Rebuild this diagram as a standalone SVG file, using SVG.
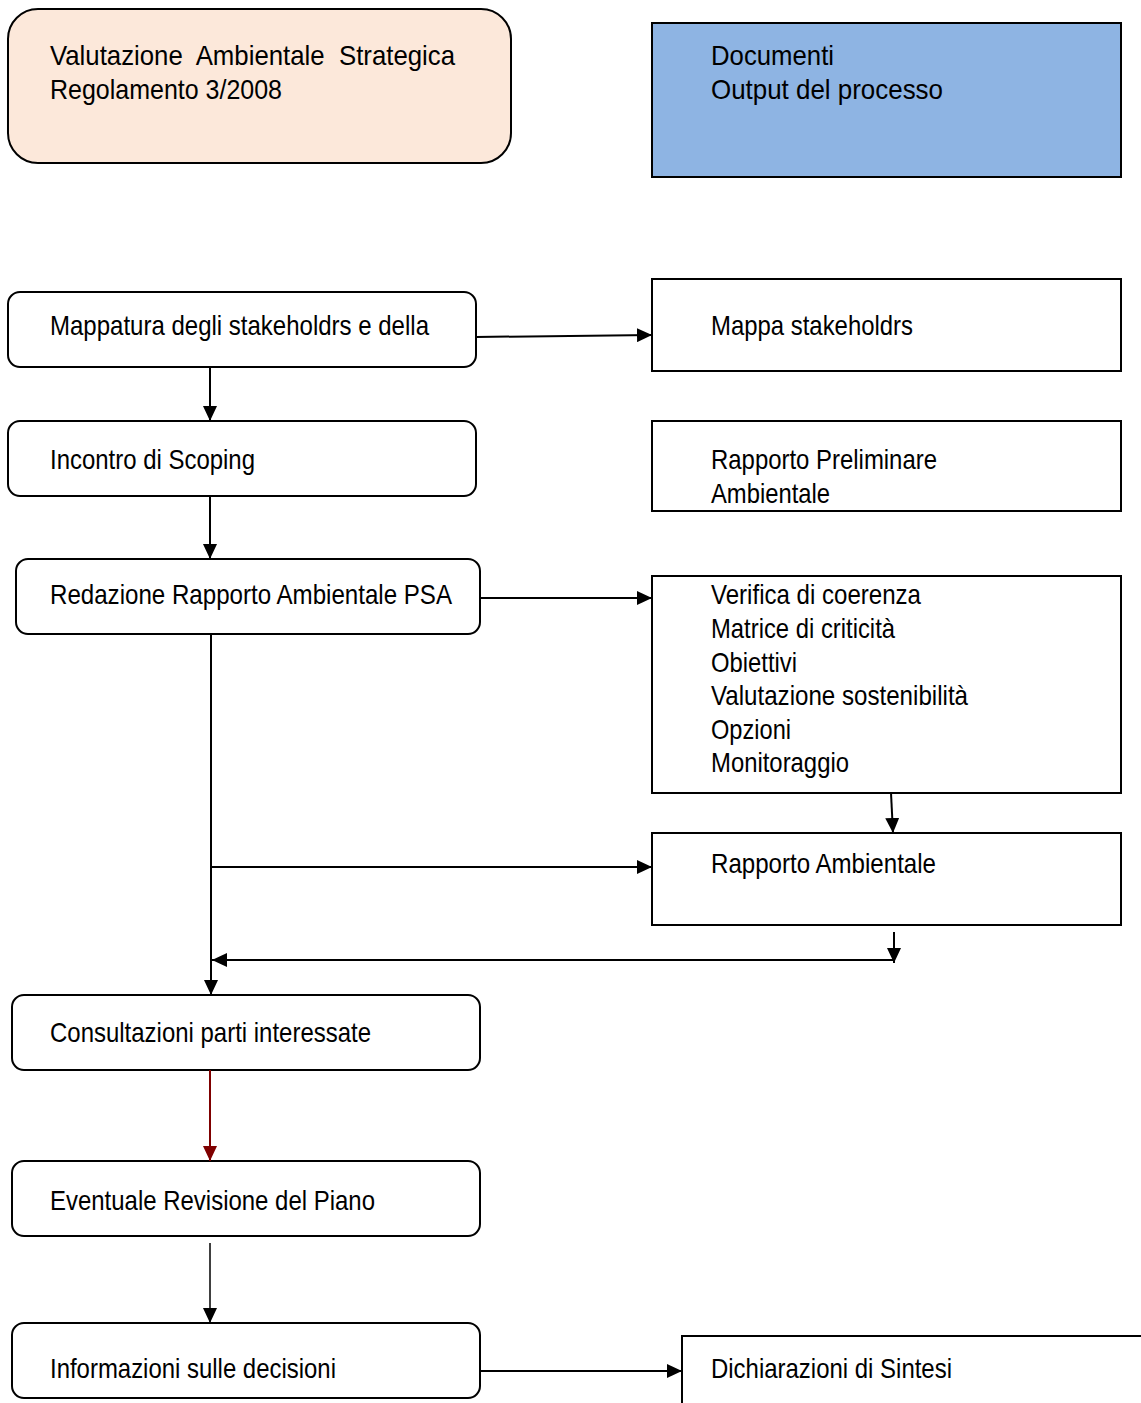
<svg xmlns="http://www.w3.org/2000/svg" width="1141" height="1403" viewBox="0 0 1141 1403">
  <style>
    .t { font-family: "Liberation Sans Narrow", "Liberation Sans", Arial, sans-serif; font-size: 28px; fill: #000; }
    .step { fill: #fff; stroke: #000; stroke-width: 2; }
    .doc { fill: #fff; stroke: #000; stroke-width: 2; }
    .ln { fill: none; stroke: #000; stroke-width: 2; }
  </style>
  <defs>
    <marker id="ah" markerUnits="userSpaceOnUse" markerWidth="16" markerHeight="14" refX="15" refY="7" orient="auto">
      <path d="M0,0 L15,7 L0,14 Z" fill="#000"/>
    </marker>
    <marker id="ahr" markerUnits="userSpaceOnUse" markerWidth="16" markerHeight="14" refX="15" refY="7" orient="auto">
      <path d="M0,0 L15,7 L0,14 Z" fill="#7f0000"/>
    </marker>
  </defs>
  <rect width="1141" height="1403" fill="#fff"/>

  <!-- header boxes -->
  <g id="vas-header">
    <rect x="8" y="9" width="503" height="154" rx="30" ry="30" fill="#fce8da" stroke="#000" stroke-width="2"/>
    <text class="t" x="50" y="65" textLength="405" lengthAdjust="spacingAndGlyphs" xml:space="preserve">Valutazione  Ambientale  Strategica</text>
    <text class="t" x="50" y="99" textLength="232" lengthAdjust="spacingAndGlyphs">Regolamento 3/2008</text>
  </g>
  <g id="docs-header">
    <rect x="652" y="23" width="469" height="154" fill="#8eb4e3" stroke="#000" stroke-width="2"/>
    <text class="t" x="711" y="65" textLength="123" lengthAdjust="spacingAndGlyphs">Documenti</text>
    <text class="t" x="711" y="99" textLength="232" lengthAdjust="spacingAndGlyphs">Output del processo</text>
  </g>

  <!-- process steps -->
  <g id="mappatura">
    <rect class="step" x="8" y="292" width="468" height="75" rx="12" ry="12"/>
    <text class="t" x="50" y="335" textLength="379" lengthAdjust="spacingAndGlyphs">Mappatura degli stakeholdrs e della</text>
  </g>
  <g id="scoping">
    <rect class="step" x="8" y="421" width="468" height="75" rx="12" ry="12"/>
    <text class="t" x="50" y="469" textLength="205" lengthAdjust="spacingAndGlyphs">Incontro di Scoping</text>
  </g>
  <g id="redazione">
    <rect class="step" x="16" y="559" width="464" height="75" rx="12" ry="12"/>
    <text class="t" x="50" y="604" textLength="402" lengthAdjust="spacingAndGlyphs">Redazione Rapporto Ambientale PSA</text>
  </g>
  <g id="consultazioni">
    <rect class="step" x="12" y="995" width="468" height="75" rx="12" ry="12"/>
    <text class="t" x="50" y="1042" textLength="321" lengthAdjust="spacingAndGlyphs">Consultazioni parti interessate</text>
  </g>
  <g id="revisione">
    <rect class="step" x="12" y="1161" width="468" height="75" rx="12" ry="12"/>
    <text class="t" x="50" y="1210" textLength="325" lengthAdjust="spacingAndGlyphs">Eventuale Revisione del Piano</text>
  </g>
  <g id="informazioni">
    <rect class="step" x="12" y="1323" width="468" height="75" rx="12" ry="12"/>
    <text class="t" x="50" y="1378" textLength="286" lengthAdjust="spacingAndGlyphs">Informazioni sulle decisioni</text>
  </g>

  <!-- output documents -->
  <g id="mappa-stakeholdrs">
    <rect class="doc" x="652" y="279" width="469" height="92"/>
    <text class="t" x="711" y="335" textLength="202" lengthAdjust="spacingAndGlyphs">Mappa stakeholdrs</text>
  </g>
  <g id="rapporto-preliminare">
    <rect class="doc" x="652" y="421" width="469" height="90"/>
    <text class="t" x="711" y="469" textLength="226" lengthAdjust="spacingAndGlyphs">Rapporto Preliminare</text>
    <text class="t" x="711" y="503" textLength="119" lengthAdjust="spacingAndGlyphs">Ambientale</text>
  </g>
  <g id="analisi">
    <rect class="doc" x="652" y="576" width="469" height="217"/>
    <text class="t" x="711" y="604" textLength="210" lengthAdjust="spacingAndGlyphs">Verifica di coerenza</text>
    <text class="t" x="711" y="638" textLength="184" lengthAdjust="spacingAndGlyphs">Matrice di criticità</text>
    <text class="t" x="711" y="672" textLength="86" lengthAdjust="spacingAndGlyphs">Obiettivi</text>
    <text class="t" x="711" y="705" textLength="257" lengthAdjust="spacingAndGlyphs">Valutazione sostenibilità</text>
    <text class="t" x="711" y="739" textLength="80" lengthAdjust="spacingAndGlyphs">Opzioni</text>
    <text class="t" x="711" y="772" textLength="138" lengthAdjust="spacingAndGlyphs">Monitoraggio</text>
  </g>
  <g id="rapporto-ambientale">
    <rect class="doc" x="652" y="833" width="469" height="92"/>
    <text class="t" x="711" y="873" textLength="225" lengthAdjust="spacingAndGlyphs">Rapporto Ambientale</text>
  </g>
  <g id="dichiarazioni">
    <rect class="doc" x="682" y="1336" width="470" height="80"/>
    <text class="t" x="711" y="1378" textLength="241" lengthAdjust="spacingAndGlyphs">Dichiarazioni di Sintesi</text>
  </g>

  <!-- connectors -->
  <g id="connectors">
    <path class="ln" d="M476,337 L652,335" marker-end="url(#ah)"/>
    <path class="ln" d="M210,367 L210,421" marker-end="url(#ah)"/>
    <path class="ln" d="M210,496 L210,559" marker-end="url(#ah)"/>
    <path class="ln" d="M480,598 L652,598" marker-end="url(#ah)"/>
    <path class="ln" d="M891,793 L893,833" marker-end="url(#ah)"/>
    <path class="ln" d="M211,634 L211,995" marker-end="url(#ah)"/>
    <path class="ln" d="M211,867 L652,867" marker-end="url(#ah)"/>
    <path class="ln" d="M894,932 L894,963" marker-end="url(#ah)"/>
    <path class="ln" d="M894,960 L212,960" marker-end="url(#ah)"/>
    <path d="M210,1070 L210,1161" fill="none" stroke="#7f0000" stroke-width="2" marker-end="url(#ahr)"/>
    <path d="M210,1243 L210,1323" fill="none" stroke="#000" stroke-width="1.5" marker-end="url(#ah)"/>
    <path class="ln" d="M480,1371 L682,1371" marker-end="url(#ah)"/>
  </g>
</svg>
